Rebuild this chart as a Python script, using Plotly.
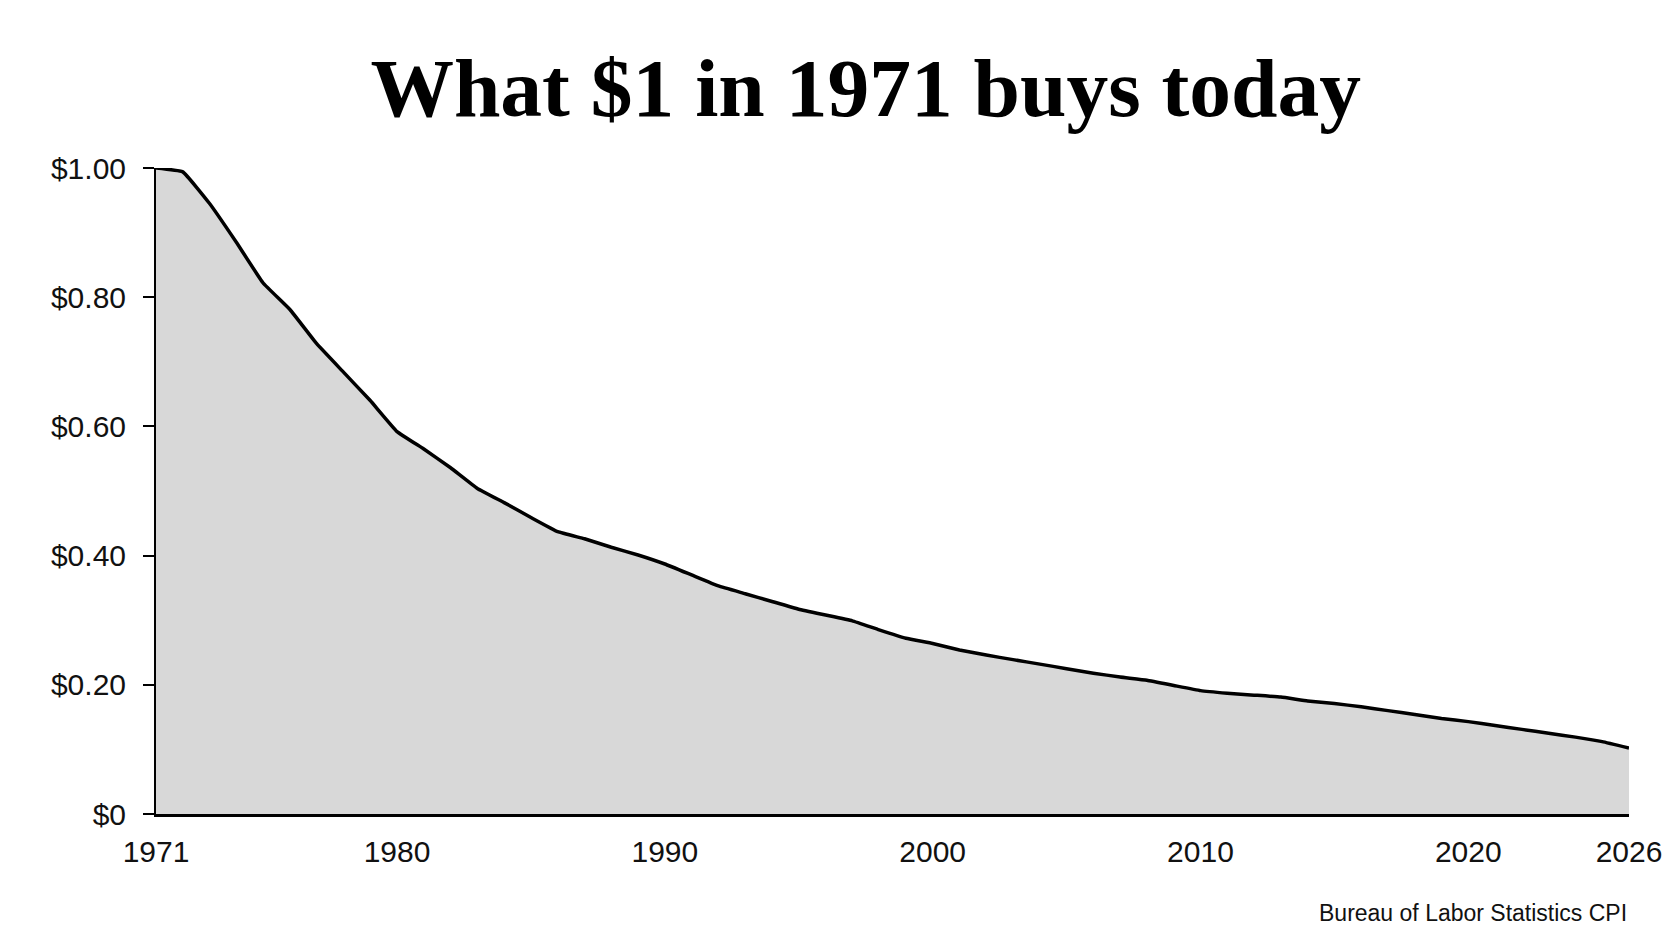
import plotly.graph_objects as go

years = list(range(1971, 2027))
values = [
    1.000, 0.994, 0.945, 0.885, 0.822, 0.781, 0.728, 0.684, 0.640, 0.592,
    0.565, 0.536, 0.504, 0.482, 0.459, 0.437, 0.426, 0.413, 0.401, 0.387,
    0.370, 0.353, 0.341, 0.329, 0.317, 0.308, 0.299, 0.285, 0.272, 0.264,
    0.254, 0.246, 0.239, 0.232, 0.225, 0.218, 0.212, 0.207, 0.199, 0.191,
    0.187, 0.184, 0.181, 0.175, 0.171, 0.166, 0.160, 0.154, 0.148, 0.143,
    0.137, 0.131, 0.125, 0.119, 0.112, 0.102,
]
x_ticks = [1971, 1980, 1990, 2000, 2010, 2020, 2026]
y_ticks = [0, 0.2, 0.4, 0.6, 0.8, 1.0]
y_tick_labels = ["$0", "$0.20", "$0.40", "$0.60", "$0.80", "$1.00"]

title_text = "What $1 in 1971 buys today"
source_text = "Bureau of Labor Statistics CPI"

fig = go.Figure()
fig.add_trace(go.Scatter(
    x=years, y=values, mode="lines",
    line=dict(color="#000000", width=3.5, shape="spline", smoothing=0.3),
    fill="tozeroy", fillcolor="#d8d8d8",
    hoverinfo="skip", showlegend=False,
))

tick_font = dict(family="Liberation Sans Narrow, Arial Narrow, Liberation Sans, Arial", size=30, color="#111111")

fig.update_layout(
    width=1672, height=941,
    paper_bgcolor="#ffffff", plot_bgcolor="#ffffff",
    margin=dict(l=148, r=51, t=160, b=135),
    title=dict(
        text="<b>" + title_text + "</b>",
        font=dict(family="Liberation Serif, Times New Roman, serif", size=83.5, color="#000000"),
        x=0.513, xanchor="center", xref="container",
        y=1 - 79 / 941, yanchor="middle", yref="container",
    ),
    xaxis=dict(
        range=[1971, 2026], tickvals=x_ticks, ticktext=[str(t) for t in x_ticks],
        showgrid=False, zeroline=False, showline=True, linecolor="#000000", linewidth=3,
        ticks="outside", ticklen=0, tickcolor="rgba(0,0,0,0)", ticklabelstandoff=9,
        tickfont=tick_font,
    ),
    yaxis=dict(
        range=[0, 1.0], tickvals=y_ticks, ticktext=y_tick_labels,
        showgrid=False, zeroline=False, showline=True, linecolor="#000000", linewidth=2,
        ticks="outside", ticklen=11, tickwidth=2, tickcolor="#000000", ticklabelstandoff=11,
        tickfont=tick_font,
    ),
)

fig.add_annotation(
    text=source_text, xref="paper", yref="paper", x=1.0, y=-0.153,
    xanchor="right", yanchor="middle", showarrow=False,
    font=dict(family="Liberation Sans, Arial, sans-serif", size=23, color="#111111"),
)

fig.write_html("out.html")
